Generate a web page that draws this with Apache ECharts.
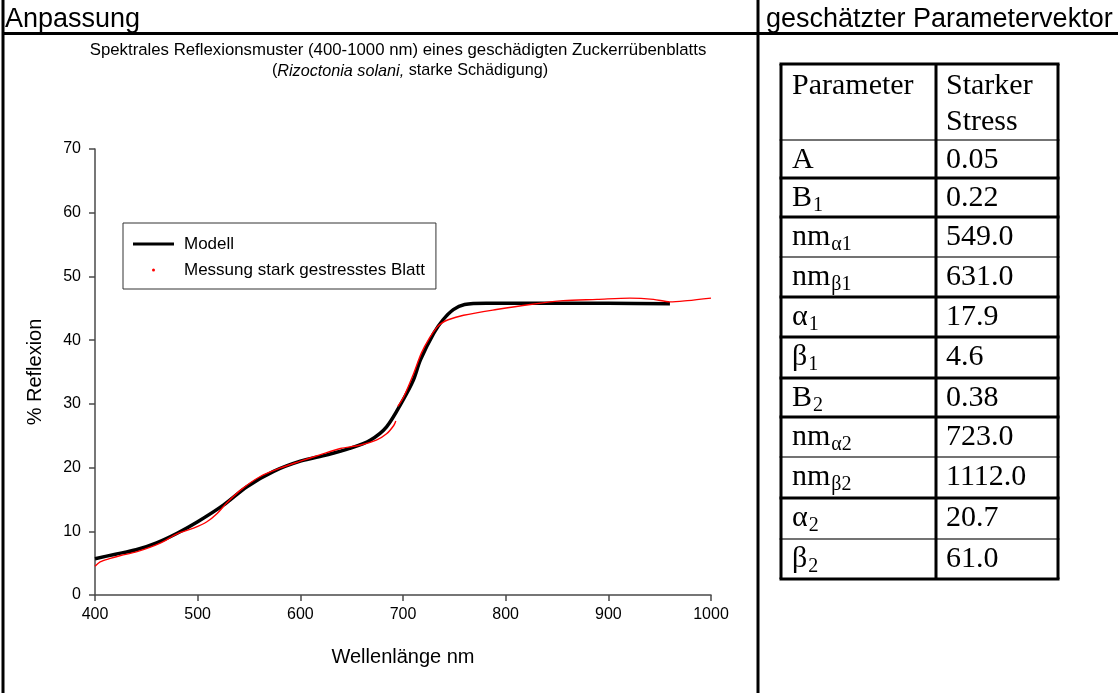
<!DOCTYPE html>
<html><head><meta charset="utf-8">
<script src="https://cdn.jsdelivr.net/npm/echarts@6/dist/echarts.min.js"></script>
<style>html,body{margin:0;padding:0;background:#fff}#c{width:1118px;height:693px}</style>
</head><body><div id="c"></div>
<script>
// ---------- data ----------
const modelNm  = [400, 420, 440, 460, 480, 500, 525, 548, 574, 600, 626, 648, 668, 684, 700, 710, 717, 730, 739, 749, 760, 781, 800, 850, 900, 960];
const modelVal = [5.7, 6.4, 7.1, 8.2, 9.7, 11.5, 14.1, 17.0, 19.4, 21.0, 22.0, 23.0, 24.3, 26.4, 30.6, 33.7, 36.9, 41.1, 43.2, 44.8, 45.6, 45.8, 45.8, 45.8, 45.8, 45.7];
const measNm1  = [400, 405, 415, 425, 441, 463, 480, 496, 509, 519, 528, 542, 561, 580, 600, 619, 639, 658, 674, 684, 691, 693];
const measVal1 = [4.5, 5.2, 5.75, 6.2, 6.8, 8.1, 9.6, 10.5, 11.5, 12.8, 14.4, 16.5, 18.6, 19.9, 21.0, 22.0, 23.0, 23.5, 24.3, 25.3, 26.6, 27.3];
const measNm2  = [695, 701, 710, 718, 726, 733, 737, 744, 759, 791, 824, 856, 889, 921, 944, 960, 977, 1000];
const measVal2 = [29.6, 31.2, 34.6, 38.0, 40.4, 42.0, 42.6, 43.2, 43.9, 44.8, 45.6, 46.2, 46.4, 46.6, 46.4, 46.0, 46.2, 46.6];

const seriesNames = ['Modell', 'Messung stark gestresstes Blatt'];
const titleLine1 = 'Spektrales Reflexionsmuster (400-1000 nm) eines geschädigten Zuckerrübenblatts';
const titleItalic = 'Rizoctonia solani,';
const titleRest = ' starke Schädigung)';
const xName = 'Wellenlänge nm';
const yName = '% Reflexion';
const headerLeft = 'Anpassung';
const headerRight = 'geschätzter Parametervektor';

const tableHeadLeft = 'Parameter';
const tableHeadRight = ['Starker', 'Stress'];
const paramMain = ['A', 'B', 'nm', 'nm', 'α', 'β', 'B', 'nm', 'nm', 'α', 'β'];
const paramSub  = ['', '1', 'α1', 'β1', '1', '1', '2', 'α2', 'β2', '2', '2'];
const paramValues = ['0.05', '0.22', '549.0', '631.0', '17.9', '4.6', '0.38', '723.0', '1112.0', '20.7', '61.0'];

// ---------- layout ----------
const SANS = '"Liberation Sans", Arial, sans-serif';
const SERIF = '"Liberation Serif", "Times New Roman", serif';
const rowY = [64, 140, 178, 217, 257, 297, 337, 378, 417, 457, 498, 539, 579];
const rowThick = [1, 0, 1, 1, 0, 1, 1, 1, 1, 0, 1, 0, 1];
const colX = [781, 936, 1058];

const cv = document.createElement('canvas').getContext('2d');
function tw(t, font) { cv.font = font; return cv.measureText(t).width; }

const g = [];
function line(x1, y1, x2, y2, w, c) {
  g.push({ type: 'line', shape: { x1, y1, x2, y2 }, style: { stroke: c || '#000', lineWidth: w }, silent: true });
}
function text(x, y, t, size, opts) {
  g.push({ type: 'text', x, y, silent: true,
    style: Object.assign({ text: t, fontSize: size, fontFamily: SANS, fill: '#000', align: 'left', verticalAlign: 'middle' }, opts || {}) });
}
// page frame
line(3, 0, 3, 693, 3);
line(758, 0, 758, 693, 3);
line(3, 33.5, 1118, 33.5, 3);
text(5, 20, headerLeft, 27);
text(766, 20, headerRight, 27);
// chart title
text(398, 50, titleLine1, 16.8, { align: 'center' });
g.push({ type: 'text', x: 410, y: 71, silent: true, style: {
  text: '{n|(}{i|' + titleItalic + '}{n|' + titleRest + '}', align: 'center', verticalAlign: 'middle',
  rich: { n: { fontSize: 16.2, fontFamily: SANS, fill: '#000' }, i: { fontSize: 16.2, fontFamily: SANS, fontStyle: 'italic', fill: '#000' } } } });
// table lines
rowY.forEach((y, i) => line(colX[0] - 1.5, y, colX[2] + 1.5, y, rowThick[i] ? 3 : 1.5, rowThick[i] ? '#000' : '#444'));
colX.forEach(x => line(x, rowY[0], x, rowY[rowY.length - 1], 3));
// table text
const FS = 30, SUBFS = 20;
text(792, 86, tableHeadLeft, FS, { fontFamily: SERIF });
text(946, 86, tableHeadRight[0], FS, { fontFamily: SERIF });
text(946, 122, tableHeadRight[1], FS, { fontFamily: SERIF });
paramMain.forEach((m, i) => {
  const cy = rowY[i + 1] + 20;
  text(792, cy, m, FS, { fontFamily: SERIF });
  if (paramSub[i]) {
    const w = tw(m, FS + 'px ' + SERIF);
    text(792 + w + 1, cy + 8, paramSub[i], SUBFS, { fontFamily: SERIF });
  }
  text(946, cy, paramValues[i], FS, { fontFamily: SERIF });
});

const chart = echarts.init(document.getElementById('c'), null, { renderer: 'canvas' });
const axisCommon = {
  axisLine: { show: true, lineStyle: { color: '#4a4a4a', width: 1.5 } },
  axisTick: { show: true, inside: false, length: 6, lineStyle: { color: '#4a4a4a', width: 1.5 } },
  splitLine: { show: false },
  nameLocation: 'middle',
  nameTextStyle: { fontSize: 20, fontFamily: SANS, color: '#000' }
};
const measData = measNm1.map((x, i) => [x, measVal1[i]]).concat([[null, null]], measNm2.map((x, i) => [x, measVal2[i]]));
chart.setOption({
  backgroundColor: '#fff',
  animation: false,
  grid: { left: 95, top: 149, width: 616, height: 446, containLabel: false },
  xAxis: Object.assign({}, axisCommon, {
    type: 'value', min: 400, max: 1000, interval: 100, name: xName, nameGap: 52,
    axisLabel: { fontSize: 16, fontFamily: SANS, color: '#000', margin: 12, formatter: v => String(v) }
  }),
  yAxis: Object.assign({}, axisCommon, {
    type: 'value', min: 0, max: 70, interval: 10, name: yName, nameGap: 50,
    axisLabel: { fontSize: 16, fontFamily: SANS, color: '#000', margin: 14, formatter: v => String(v) }
  }),
  legend: {
    orient: 'vertical', left: 123, top: 223,
    padding: [11, 11, 9, 10], itemGap: 6, itemWidth: 41, itemHeight: 3,
    borderColor: '#333', borderWidth: 1, backgroundColor: '#fff',
    textStyle: { fontSize: 17, fontFamily: SANS, color: '#000', lineHeight: 20, padding: [0, 0, 0, 5] },
    data: [
      { name: seriesNames[0], icon: 'rect', itemStyle: { color: '#000' } },
      { name: seriesNames[1], icon: 'circle', itemStyle: { color: '#ff0000' } }
    ]
  },
  series: [
    { name: seriesNames[0], type: 'line', data: modelNm.map((x, i) => [x, modelVal[i]]), smooth: 0.3,
      showSymbol: false, symbol: 'none', lineStyle: { color: '#000', width: 3.5 }, itemStyle: { color: '#000' }, z: 2 },
    { name: seriesNames[1], type: 'line', data: measData, smooth: 0.3, connectNulls: false,
      showSymbol: false, symbol: 'none', lineStyle: { color: '#ff0000', width: 1.4 }, itemStyle: { color: '#ff0000' }, z: 3 }
  ],
  graphic: g
});
</script></body></html>
